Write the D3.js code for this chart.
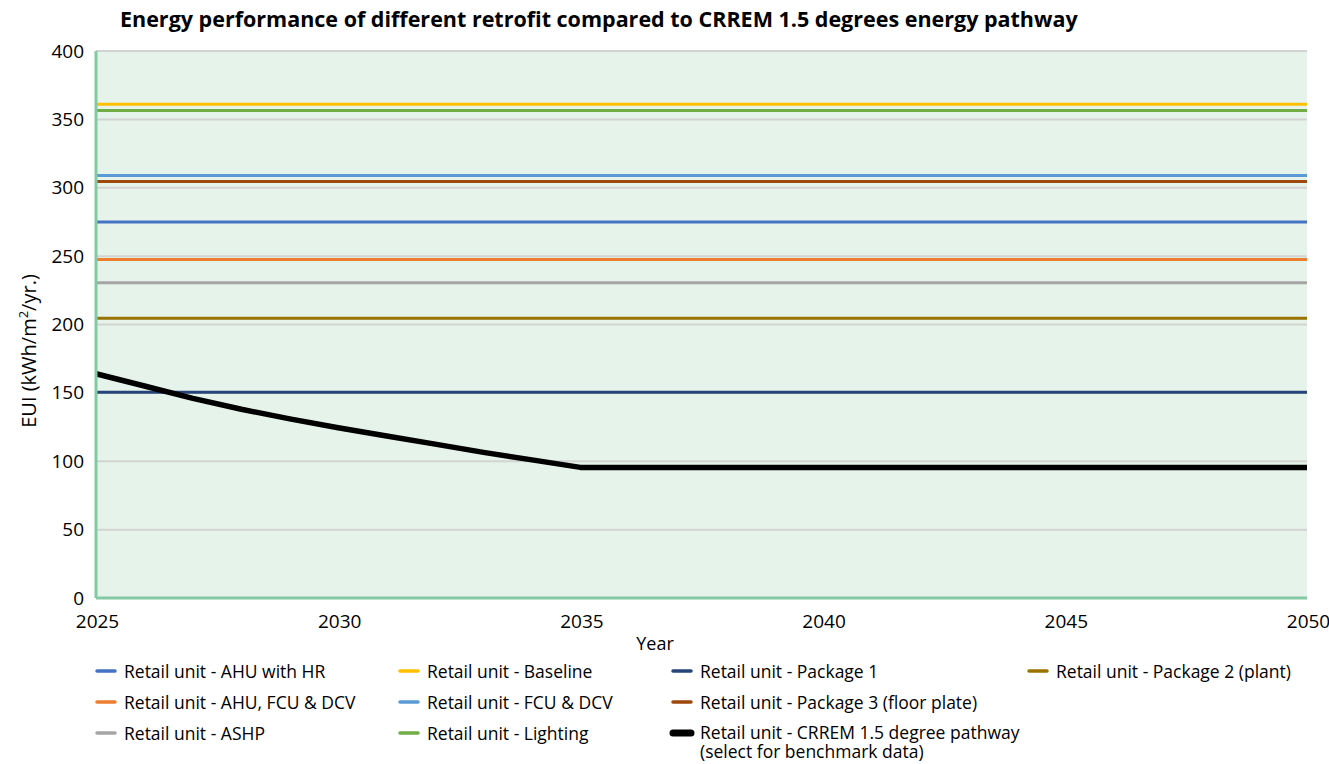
<!DOCTYPE html>
<html>
<head>
<meta charset="utf-8">
<script src="https://cdn.jsdelivr.net/npm/d3@7"></script>
<style>
  body { margin: 0; background: #fff; }
  svg { font-family: 'Open Sans', sans-serif; }
</style>
</head>
<body>
<div id="chart"></div>
<script>
// Years on the x axis
var years = [2025, 2026, 2027, 2028, 2029, 2030, 2031, 2032, 2033, 2034, 2035, 2036, 2037,
             2038, 2039, 2040, 2041, 2042, 2043, 2044, 2045, 2046, 2047, 2048, 2049, 2050];

// Retrofit options (flat EUI across all years)
var retrofitNames = ['Retail unit - Baseline', 'Retail unit - Lighting', 'Retail unit - FCU & DCV',
                     'Retail unit - Package 3 (floor plate)', 'Retail unit - AHU with HR',
                     'Retail unit - AHU, FCU & DCV', 'Retail unit - ASHP',
                     'Retail unit - Package 2 (plant)', 'Retail unit - Package 1'];
var retrofitEUI = [361, 356.5, 309, 304.5, 275, 247.5, 230.5, 204.5, 150.5];
var retrofitColors = ['#ffc000', '#70ad47', '#5b9bd5', '#9e480e', '#4472c4',
                      '#ed7d31', '#a5a5a5', '#997300', '#264478'];

// CRREM 1.5 degree pathway
var crremName = 'Retail unit - CRREM 1.5 degree pathway';
var crremEUI = [164, 155, 146, 138, 131, 124.5, 118.5, 112.5, 106.5, 101, 95.5, 95.5, 95.5,
                95.5, 95.5, 95.5, 95.5, 95.5, 95.5, 95.5, 95.5, 95.5, 95.5, 95.5, 95.5, 95.5];

var yTicks = [0, 50, 100, 150, 200, 250, 300, 350, 400];
var xTicks = [2025, 2030, 2035, 2040, 2045, 2050];

// Legend layout: rows of names as they appear
var legendRows = [
  ['Retail unit - AHU with HR', 'Retail unit - Baseline', 'Retail unit - Package 1', 'Retail unit - Package 2 (plant)'],
  ['Retail unit - AHU, FCU & DCV', 'Retail unit - FCU & DCV', 'Retail unit - Package 3 (floor plate)'],
  ['Retail unit - ASHP', 'Retail unit - Lighting', crremName]
];

var width = 1329, height = 764;
var margins = {left: 96, right: 22, top: 51, bottom: 166};
var innerW = width - margins.left - margins.right;
var innerH = height - margins.top - margins.bottom;

var x = d3.scaleLinear().domain([2025, 2050]).range([0, innerW]);
var y = d3.scaleLinear().domain([0, 400]).range([innerH, 0]);

var svg = d3.select('#chart').append('svg')
            .attr('width', width)
            .attr('height', height);

// Title
svg.append('text')
   .attr('x', 120)
   .attr('y', 27)
   .attr('font-size', 21.5)
   .attr('font-weight', 'bold')
   .attr('fill', '#000')
   .text('Energy performance of different retrofit compared to CRREM 1.5 degrees energy pathway');

var g = svg.append('g')
           .attr('transform', 'translate(' + margins.left + ',' + margins.top + ')');

// Plot background
g.append('rect')
 .attr('width', innerW)
 .attr('height', innerH)
 .attr('fill', '#e6f3ea');

// Gridlines
g.append('g').selectAll('line')
 .data(yTicks.filter(function(d) { return d > 0; }))
 .enter().append('line')
 .attr('x1', 0)
 .attr('x2', innerW)
 .attr('y1', function(d) { return y(d); })
 .attr('y2', function(d) { return y(d); })
 .attr('stroke', '#d3d3d3')
 .attr('stroke-width', 2);

// Y axis labels
var yAxis = d3.axisLeft(y).tickValues(yTicks).tickSize(0).tickPadding(12);
g.append('g')
 .call(yAxis)
 .call(function(a) { a.select('.domain').remove(); })
 .selectAll('text')
 .attr('font-size', 19)
 .attr('font-family', "'Open Sans', sans-serif")
 .attr('fill', '#000');

// X axis labels
var xAxis = d3.axisBottom(x).tickValues(xTicks).tickSize(0).tickPadding(17).tickFormat(d3.format('d'));
g.append('g')
 .attr('transform', 'translate(1,' + innerH + ')')
 .call(xAxis)
 .call(function(a) { a.select('.domain').remove(); })
 .selectAll('text')
 .attr('font-size', 19)
 .attr('font-family', "'Open Sans', sans-serif")
 .attr('fill', '#000');

// Retrofit lines
var line = d3.line()
             .x(function(d) { return x(d[0]); })
             .y(function(d) { return y(d[1]); });

var series = retrofitNames.map(function(name, i) {
  return {
    name: name,
    color: retrofitColors[i],
    values: years.map(function(yr) { return [yr, retrofitEUI[i]]; })
  };
});

g.append('g').selectAll('path')
 .data(series)
 .enter().append('path')
 .attr('d', function(d) { return line(d.values); })
 .attr('fill', 'none')
 .attr('stroke', function(d) { return d.color; })
 .attr('stroke-width', 3);

// CRREM pathway
g.append('path')
 .datum(years.map(function(yr, i) { return [yr, crremEUI[i]]; }))
 .attr('d', line)
 .attr('fill', 'none')
 .attr('stroke', '#000')
 .attr('stroke-width', 5.5)
 .attr('stroke-linejoin', 'round');

// Axis lines (green)
g.append('line')
 .attr('x1', 0).attr('x2', 0)
 .attr('y1', 0).attr('y2', innerH)
 .attr('stroke', '#84c9a3')
 .attr('stroke-width', 3);
g.append('line')
 .attr('x1', 0).attr('x2', innerW)
 .attr('y1', innerH).attr('y2', innerH)
 .attr('stroke', '#84c9a3')
 .attr('stroke-width', 3);

// Axis titles
svg.append('text')
   .attr('x', 655)
   .attr('y', 650)
   .attr('text-anchor', 'middle')
   .attr('font-size', 18)
   .text('Year');

var yTitle = svg.append('text')
   .attr('transform', 'translate(36,351) rotate(-90)')
   .attr('text-anchor', 'middle')
   .attr('font-size', 20);
yTitle.append('tspan').text('EUI (kWh/m');
yTitle.append('tspan').attr('font-size', 13).attr('dy', -8).text('2');
yTitle.append('tspan').attr('dy', 8).text('/yr.)');

// Legend
var colorOf = {};
retrofitNames.forEach(function(n, i) { colorOf[n] = retrofitColors[i]; });
colorOf[crremName] = '#000';

var colX = [95, 398, 671, 1027];
var rowY = [671, 702, 733];
var legend = svg.append('g').attr('font-size', 17.5);

legendRows.forEach(function(row, r) {
  row.forEach(function(name, c) {
    var isCrrem = name === crremName;
    var item = legend.append('g')
                     .attr('transform', 'translate(' + colX[c] + ',' + rowY[r] + ')');
    item.append('line')
        .attr('x1', 2).attr('x2', 20)
        .attr('y1', 0).attr('y2', 0)
        .attr('stroke', colorOf[name])
        .attr('stroke-width', isCrrem ? 7 : 3.5)
        .attr('stroke-linecap', 'round');
    var label = item.append('text')
                    .attr('x', 29)
                    .attr('y', isCrrem ? 5.5 : 6.5);
    label.append('tspan').text(name);
    // the pathway entry wraps onto a second line
    if (isCrrem) {
      label.append('tspan')
           .attr('x', 29)
           .attr('dy', 19.5)
           .text('(select for benchmark data)');
    }
  });
});
</script>
</body>
</html>
